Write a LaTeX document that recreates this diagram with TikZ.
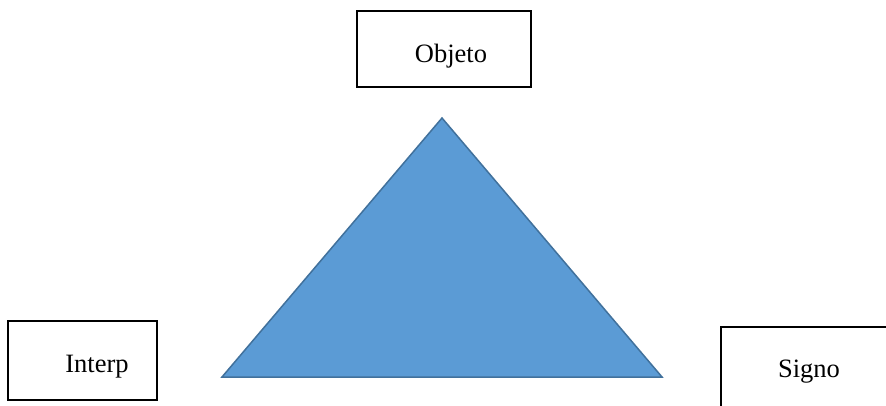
\documentclass[tikz,border=0pt]{standalone}
\usepackage{fontspec}
\setmainfont{Liberation Serif}
\definecolor{trifill}{HTML}{5B9BD5}
\definecolor{triedge}{HTML}{41719C}
\tikzset{
  box/.style={draw=black, line width=1.8pt, rectangle, inner sep=0pt},
  lbl/.style={font=\fontsize{26.5}{30}\selectfont, anchor=base, inner sep=0pt},
  tri/.style={fill=trifill, draw=triedge, line width=1.5pt, line join=miter}
}
\begin{document}
\begin{tikzpicture}[x=1pt,y=-1pt]
\useasboundingbox (0,0) rectangle (886,405);
\clip (0,0) rectangle (886,405);
% boxes
\node[box, minimum width=174pt, minimum height=76pt] (objeto) at (444,49) {};
\node[box, minimum width=149pt, minimum height=79pt] (interp) at (82.5,360.5) {};
\node[box, minimum width=200pt, minimum height=120pt] (signo) at (821,387) {};
% labels
\node[lbl] (tobjeto) at (451,62.5) {Objeto};
\node[lbl] (tinterp) at (97,372) {Interp};
\node[lbl] (tsigno) at (809,377) {Signo};
% triangle
\coordinate (apex) at (442,118);
\coordinate (bl) at (222,377);
\coordinate (br) at (662,377);
\draw[tri] (apex) -- (br) -- (bl) -- cycle;
\end{tikzpicture}
\end{document}
